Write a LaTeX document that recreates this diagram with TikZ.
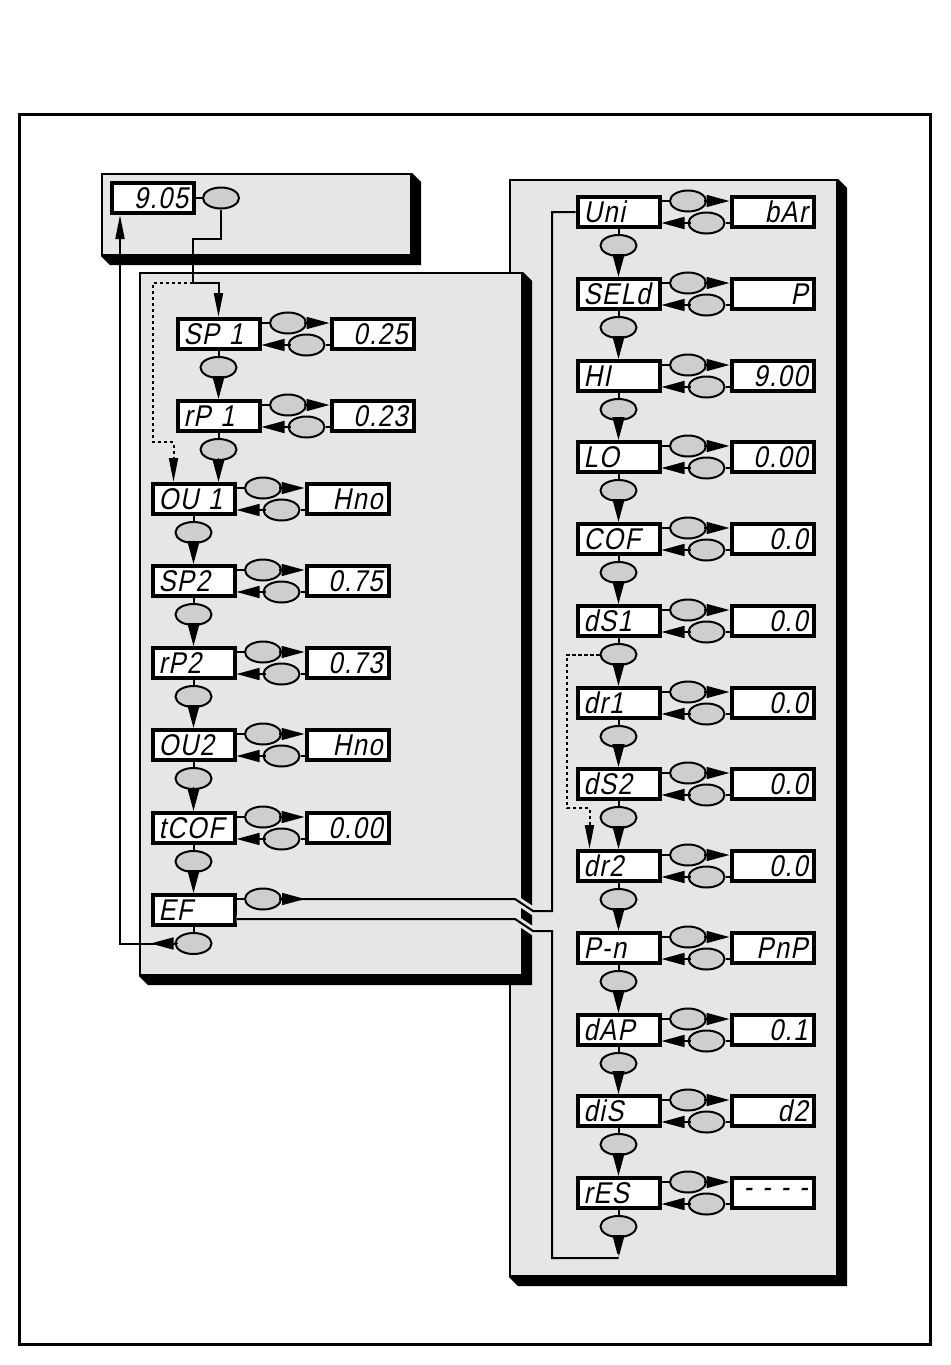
\documentclass[tikz,border=0pt]{standalone}
\usepackage{fontspec}
\usepackage{tikz}
\usetikzlibrary{positioning,arrows.meta,shapes.geometric,calc,fit}
\newfontfamily\lcdfont{Liberation Sans}[FakeStretch=0.85,FakeSlant=0.2,LetterSpace=5]
\definecolor{panelgray}{RGB}{230,230,230}
\definecolor{knobgray}{RGB}{206,206,206}
\tikzset{
  lcd/.style={draw, line width=2pt, fill=white, minimum width=41pt, minimum height=15pt, text width=35pt, inner xsep=3pt, inner ysep=0pt, font=\lcdfont\fontsize{15}{15}\selectfont},
  tag/.style={lcd, align=left},
  val/.style={lcd, align=right},
  knob/.style={ellipse, draw, line width=1pt, fill=knobgray, minimum width=18pt, minimum height=10.5pt, inner sep=0pt},
  panel/.style={draw, line width=1pt, fill=panelgray, inner sep=0pt},
  link/.style={line width=1pt},
  halo/.style={link, preaction={draw=panelgray, line width=4pt}},
  wedge/.style={-{Triangle[length=11.5pt,width=6pt]}, line width=0.8pt},
  arr/.style={-{Triangle[length=12pt,width=4.5pt]}, line width=1pt},
  dots/.style={arr, dash pattern=on 1.6pt off 1.4pt},
}
\begin{document}
\begin{tikzpicture}[x=0.5pt, y=-0.5pt]
  \useasboundingbox (0,0) rectangle (950,1365);
  \draw[line width=1.5pt] (19.5,114.5) rectangle (930,1344);

  % panels with their drop shadows
  \node[panel, fit={(510,180) (837,1276)}] (R) {};
  \fill (R.north east) -- ++(9,9) -- ($(R.south east)+(9,9)$) -- ($(R.south west)+(9,9)$) -- (R.south west) -- (R.south east) -- cycle;
  \node[panel, fit={(140,273) (522,975)}] (L) {};
  \fill (L.north east) -- ++(9,9) -- ($(L.south east)+(9,9)$) -- ($(L.south west)+(9,9)$) -- (L.south west) -- (L.south east) -- cycle;
  \node[panel, fit={(102,174) (411,255)}] (T) {};
  \fill (T.north east) -- ++(9,9) -- ($(T.south east)+(9,9)$) -- ($(T.south west)+(9,9)$) -- (T.south west) -- (T.south east) -- cycle;

  % start display
  \node[val] (top) at (153,198) {9.05};
  \node[knob, right=3pt of top] (topk) {};
  \draw[link] (top) -- (topk);

  % parameter rows: name / label / value / x / y
  \foreach \n/\l/\v/\x/\y in {SPa/SP 1/0.25/218.5/334, rPa/rP 1/0.23/218.5/416,
      OUa/OU 1/Hno/193.5/499, SPb/SP2/0.75/193.5/581, rPb/rP2/0.73/193.5/663,
      OUb/OU2/Hno/193.5/745, tCOF/tCOF/0.00/193.5/828,
      Uni/Uni/bAr/618.5/212, SELd/SELd/P/618.5/294, HI/HI/9.00/618.5/376,
      LO/LO/0.00/618.5/457, COF/COF/0.0/618.5/539, dSa/dS1/0.0/618.5/621,
      dra/dr1/0.0/618.5/703, dSb/dS2/0.0/618.5/784, drb/dr2/0.0/618.5/866,
      Pn/P-n/PnP/618.5/948, dAP/dAP/0.1/618.5/1030, diS/diS/d2/618.5/1111,
      rES/rES/- - - -/618.5/1193}{
    \node[tag] (\n) at (\x,\y) {\l};
    \node[val, right=34pt of \n] (v\n) {\v};
    \node[knob] (f\n) at ($(\n.east)+(26.5,-11)$) {};
    \node[knob] (b\n) at ($(\n.east)+(45,11)$) {};
    \draw[link] (\n.east |- f\n) -- (f\n);
    \draw[wedge] ($(f\n.east)+(-3,0)$) -- (f\n.east -| v\n.west);
    \draw[link] (v\n.west |- b\n) -- (b\n);
    \draw[wedge] ($(b\n.west)+(3,0)$) -- (b\n.west -| \n.east);
  }
  \node[tag] (EF) at (193.5,910) {EF};
  \node[knob] (fEF) at ($(EF.east)+(26.5,-11)$) {};
  \draw[link] (EF.east |- fEF) -- (fEF);

  % step down to the next parameter
  \foreach \a/\b in {SPa/rPa, rPa/OUa, OUa/SPb, SPb/rPb, rPb/OUb, OUb/tCOF, tCOF/EF,
      Uni/SELd, SELd/HI, HI/LO, LO/COF, COF/dSa, dSa/dra, dra/dSb, dSb/drb,
      drb/Pn, Pn/dAP, dAP/diS, diS/rES}{
    \node[knob] (d\a) at ($(\a.south)+(0,16.5)$) {};
    \draw[link] (\a.south) -- (d\a);
    \draw[wedge] ($(d\a.south)+(0,-3)$) -- (d\a.south |- \b.north);
  }
  \node[knob] (dEF) at ($(EF.south)+(0,16.5)$) {};
  \draw[link] (EF.south) -- (dEF);
  \node[knob] (drES) at ($(rES.south)+(0,16.5)$) {};
  \draw[link] (rES.south) -- (drES);

  % jumps
  \coordinate (j1) at (193,283);
  \coordinate (j2) at (153,442);
  \coordinate (j3) at (567,808);
  \coordinate (brk) at (515,0);
  \draw[arr] (topk.south) -- ++(0,29) -| (j1) -| (SPa.north);
  \draw[dots] (j1) -| (j2) -| ($(OUa.north west)+(23,0)$);
  \draw[dots] (ddSa.west) -| (j3) -| ($(drb.north west)+(14,0)$);
  \draw[arr] (dEF.west) -| ($(top.south west)+(10,0)$);
  \draw[wedge] ($(dEF.west)+(3,0)$) -- ++(-27,0);
  \draw[halo] (fEF.east) -- (fEF.east -| brk) -- ++(18,12) -- ++(19,0) |- (Uni.west);
  \draw[wedge] ($(fEF.east)+(-3,0)$) -- ++(26,0);
  \coordinate (EFo) at ($(EF.east)+(0,9)$);
  \coordinate (rend) at ($(drES.south)+(0,20)$);
  \draw[wedge] ($(drES.south)+(0,-3)$) -- (rend);
  \draw[halo] (EFo) -- (EFo -| brk) -- ++(18,12) -- ++(19,0) |- (rend);
\end{tikzpicture}
\end{document}
